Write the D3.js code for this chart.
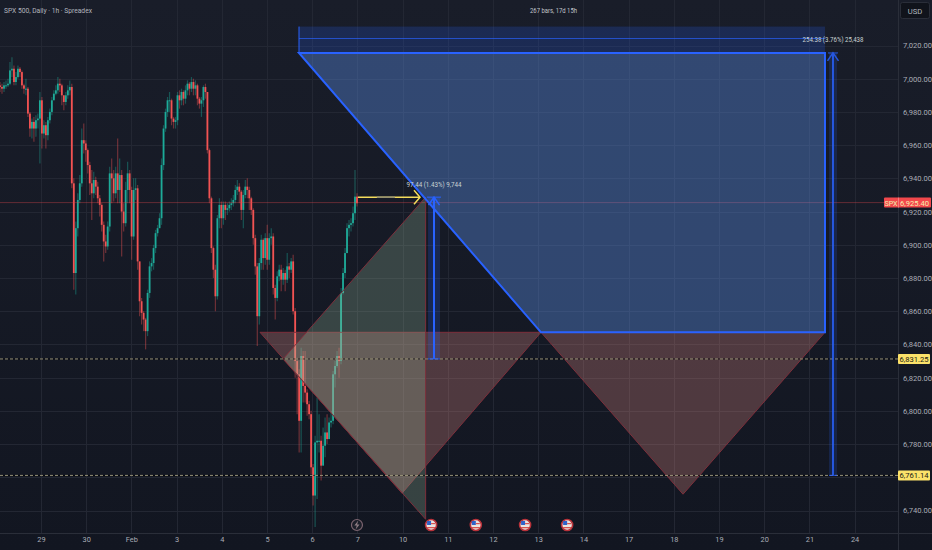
<!DOCTYPE html>
<html><head><meta charset="utf-8">
<script src="https://cdn.jsdelivr.net/npm/d3@7/dist/d3.min.js"></script>
<style>html,body{margin:0;padding:0;background:#131722;overflow:hidden}svg{display:block}text{font-family:Roboto,"Liberation Sans",sans-serif}</style>
</head><body><svg id="c" width="932" height="550"></svg>
<script>
const closes=[6995,6994,6996,6996,6997,7005,7006,6998,7001,7006,
7004,6996,6994,6994,6979,6970,6974,6970,6975,6976,
6987,6967,6972,6966,6975,6980,6987,6991,6993,6997,
6996,6990,6986,6990,6993,6995,6937,6883,6910,6927,
6937,6963,6961,6957,6948,6937,6931,6939,6935,6928,
6924,6912,6902,6899,6911,6943,6940,6931,6943,6933,
6942,6920,6913,6933,6943,6933,6905,6933,6934,6890,
6866,6859,6855,6848,6871,6887,6889,6898,6907,6910,
6916,6948,6970,6980,6987,6987,6976,6974,6975,6990,
6987,6992,6988,6993,6997,6994,6998,6994,6996,6988,
6985,6987,6995,6992,6957,6928,6898,6885,6869,6916,
6924,6916,6924,6921,6922,6924,6925,6927,6933,6935,
6932,6921,6930,6935,6933,6928,6921,6904,6887,6857,
6889,6903,6892,6904,6891,6904,6905,6874,6868,6881,
6885,6879,6883,6879,6887,6885,6890,6860,6830,6822,
6794,6833,6815,6811,6804,6798,6766,6749,6781,6782,
6782,6767,6779,6787,6783,6793,6794,6822,6827,6833,
6830,6871,6883,6895,6910,6912,6913,6919,6929,6925];
const highs=[6998,6997,6998,6999,7000,7010,7013,7008,7004,7008,
7007,7005,6997,7000,6995,6980,6976,6977,6978,6979,
6992,6989,6975,6974,6977,6982,6989,6993,6996,7001,
7000,6997,6990,6992,6996,6999,6997,6940,6914,6931,
6942,6970,6973,6963,6958,6950,6945,6944,6941,6938,
6930,6925,6914,6906,6914,6947,6952,6945,6947,6964,
6952,6945,6925,6938,6950,6945,6935,6940,6940,6936,
6890,6868,6860,6856,6873,6890,6892,6900,6909,6912,
6919,6952,6972,6982,6989,6992,6988,6977,6977,6992,
6993,6994,6993,6996,6999,6998,7001,7000,6999,6997,
6989,6989,6996,6997,6992,6958,6929,6899,6888,6918,
6928,6926,6926,6926,6925,6926,6928,6930,6936,6939,
6937,6933,6933,6939,6940,6935,6929,6922,6906,6889,
6892,6906,6904,6907,6912,6907,6910,6907,6876,6884,
6888,6888,6886,6885,6895,6889,6892,6894,6862,6832,
6825,6838,6836,6836,6813,6806,6800,6768,6785,6808,
6798,6785,6790,6796,6798,6796,6800,6824,6830,6836,
6838,6874,6886,6898,6913,6915,6916,6923,6945,6931];
const lows=[6992,6991,6992,6994,6995,6996,7001,6996,6996,7000,
7001,6994,6991,6990,6977,6965,6964,6962,6965,6970,
6949,6958,6964,6958,6963,6973,6978,6988,6990,6991,
6992,6984,6981,6984,6988,6990,6934,6873,6870,6905,
6925,6935,6955,6950,6943,6930,6915,6928,6930,6925,
6917,6908,6890,6895,6897,6908,6925,6926,6928,6925,
6925,6893,6908,6911,6925,6925,6891,6903,6927,6885,
6857,6852,6848,6837,6845,6868,6884,6885,6895,6905,
6913,6912,6945,6968,6977,6980,6972,6970,6970,6972,
6982,6984,6984,6985,6990,6990,6992,6990,6990,6984,
6982,6977,6983,6988,6955,6925,6895,6880,6860,6867,
6910,6910,6912,6915,6918,6920,6921,6923,6925,6930,
6925,6915,6910,6928,6928,6921,6918,6900,6882,6839,
6852,6885,6885,6888,6885,6888,6900,6870,6855,6866,
6878,6872,6876,6872,6877,6880,6883,6858,6820,6798,
6775,6775,6805,6805,6797,6795,6762,6743,6730,6747,
6775,6758,6768,6772,6780,6785,6790,6792,6814,6826,
6820,6828,6870,6880,6895,6905,6908,6911,6915,6923];
const firstOpen=6996;
const dayLabels=["29","30","Feb","3","4","5","6","7","10","11","12","13","14","17","18","19","20","21","24"];
const priceTicks=[7020,7000,6980,6960,6940,6920,6900,6880,6860,6840,6820,6800,6780,6760,6740];
const hiddenPriceLabels=[6760];
// drawings: [day position, price]
const redTri1=[[4.845,6847.3],[11.062,6847.3],[7.987,6750.4]];
const redTri2=[[11.062,6847.3],[17.345,6847.3],[14.204,6749.8]];
const greenTri=[[5.354,6831.25],[8.51,6928.69],[8.51,6734.7]];
const bluePoly=[[5.708,7015.52],[17.345,7015.52],[17.345,6847.3],[11.062,6847.3]];
const blueBand=[5.708,17.345,7031.4,7015.52];
const blueBandMid=7024.2;
const levels=[6831.25,6761.14];
const lastPrice=6925.4;
const measureBig={day:17.522,from:6761.14,to:7015.52,label:"254.38 (3.76%) 25,438"};
const measureSmall={day:8.695,from:6831.25,to:6928.69,label:"97.44 (1.43%) 9,744"};
const yellowArrow={from:7.013,to:8.385,price:6928.69,greyFrom:7.43,greyTo:7.83};
const eventDays=[6.99,8.63,9.62,10.71,11.64];
const eventKinds=["bolt","flag","flag","flag","flag"];

const W=932,H=550,paneR=898,paneB=533;
const svg=d3.select("#c");
const y=d3.scaleLinear().domain([7020,6740]).range([45.5,510.5]);
const xDay=d3.scaleLinear().domain([0,1]).range([41,86.2]);
const xBar=d3.scaleLinear().domain([0,closes.length-1]).range([0,357]);
const defs=svg.append("defs");
const g0=defs.append("linearGradient").attr("id","bg").attr("x1",0).attr("x2",0).attr("y1",0).attr("y2",1);
g0.append("stop").attr("offset",0).attr("stop-color","#191d29");
g0.append("stop").attr("offset",1).attr("stop-color","#121621");
defs.append("clipPath").attr("id","pane").append("rect").attr("width",paneR).attr("height",paneB);
defs.append("filter").attr("id","soft").attr("x","-2%").attr("y","-2%").attr("width","104%").attr("height","104%")
  .append("feGaussianBlur").attr("stdDeviation",.35);
svg.append("rect").attr("width",W).attr("height",H).attr("fill","url(#bg)");

const yAxis=d3.axisRight(y).tickValues(priceTicks).tickSize(0).tickPadding(5)
  .tickFormat(d=>hiddenPriceLabels.includes(d)?"":d3.format(",.2f")(d));
const xAxis=d3.axisBottom(xDay).tickValues(dayLabels.map((_,i)=>i)).tickSize(0).tickPadding(4)
  .tickFormat(i=>dayLabels[i]);

const pane=svg.append("g").attr("clip-path","url(#pane)");
// grid
pane.append("g").selectAll("line").data(priceTicks).join("line")
 .attr("x1",0).attr("x2",paneR).attr("y1",d=>Math.round(y(d))+.5).attr("y2",d=>Math.round(y(d))+.5).attr("stroke","#232733").attr("stroke-width",1);
pane.append("g").selectAll("line").data(dayLabels).join("line")
 .attr("y1",0).attr("y2",paneB).attr("x1",(_,i)=>Math.round(xDay(i))+.5).attr("x2",(_,i)=>Math.round(xDay(i))+.5).attr("stroke","#232733").attr("stroke-width",1);

// candles
const bars=closes.map((c,i)=>({i,c,o:i?closes[i-1]:firstOpen,h:highs[i],l:lows[i]}));
const up="#1fab99",dn="#f25252";
const col=d=>d.c>=d.o?up:dn;
const cg=pane.append("g").attr("filter","url(#soft)");
cg.selectAll("line").data(bars).join("line")
 .attr("x1",d=>xBar(d.i)).attr("x2",d=>xBar(d.i)).attr("y1",d=>y(d.h)).attr("y2",d=>y(d.l))
 .attr("stroke",col).attr("stroke-opacity",.4).attr("stroke-width",1.2);
cg.selectAll("rect").data(bars).join("rect")
 .attr("x",d=>xBar(d.i)-.9).attr("width",1.8)
 .attr("y",d=>y(Math.max(d.o,d.c))).attr("height",d=>Math.max(1,Math.abs(y(d.o)-y(d.c))))
 .attr("fill",col);

// price line
pane.append("line").attr("x1",0).attr("x2",paneR).attr("y1",y(lastPrice)).attr("y2",y(lastPrice))
 .attr("stroke","#e0474c").attr("stroke-opacity",.38).attr("stroke-width",1);

const poly=d=>d.map(p=>[xDay(p[0]),y(p[1])].join(",")).join(" ");
const redFill="rgba(217,136,130,.3)",redLine="#7d2f3b";
pane.append("polygon").attr("points",poly(redTri1)).attr("fill",redFill).attr("stroke",redLine);
pane.append("polygon").attr("points",poly(redTri2)).attr("fill",redFill).attr("stroke",redLine);
pane.append("polygon").attr("points",poly(greenTri)).attr("fill","rgba(170,210,170,.24)").attr("stroke",redLine);

// blue
const bandFill="rgba(41,98,255,.2)",blue="#2962ff";
pane.append("rect").attr("x",xDay(blueBand[0])).attr("width",xDay(blueBand[1])-xDay(blueBand[0]))
 .attr("y",y(blueBand[2])).attr("height",y(blueBand[3])-y(blueBand[2])).attr("fill",bandFill);
pane.append("line").attr("x1",xDay(blueBand[0])).attr("x2",xDay(blueBand[1])).attr("y1",y(blueBandMid)).attr("y2",y(blueBandMid)).attr("stroke",blue).attr("stroke-opacity",.7);
pane.append("line").attr("x1",xDay(blueBand[0])).attr("x2",xDay(blueBand[0])).attr("y1",y(blueBand[2])).attr("y2",y(blueBand[3])).attr("stroke",blue);
pane.append("polygon").attr("points",poly(bluePoly)).attr("fill","rgba(90,140,225,.4)").attr("stroke",blue).attr("stroke-width",2).attr("stroke-linejoin","miter");

// levels
levels.forEach(v=>{
 pane.append("line").attr("x1",0).attr("x2",paneR).attr("y1",y(v)).attr("y2",y(v))
  .attr("stroke","#000").attr("stroke-opacity",.6);
 pane.append("line").attr("x1",0).attr("x2",paneR).attr("y1",y(v)).attr("y2",y(v))
  .attr("stroke","#cfc8a2").attr("stroke-opacity",.72).attr("stroke-dasharray","3 2");
});

// measures
function measure(m,half,headW,op){
 const cx=xDay(m.day),y0=y(m.from),y1=y(m.to);
 const gm=pane.append("g").attr("opacity",op);
 gm.append("rect").attr("x",cx-half).attr("width",half*2).attr("y",y1).attr("height",y0-y1).attr("fill",bandFill);
 gm.append("line").attr("x1",cx).attr("x2",cx).attr("y1",y0).attr("y2",y1).attr("stroke",blue).attr("stroke-width",2);
 gm.append("line").attr("x1",cx-half).attr("x2",cx+half).attr("y1",y0).attr("y2",y0).attr("stroke",blue);
 gm.append("line").attr("x1",cx-half-1).attr("x2",cx+half+1).attr("y1",y1).attr("y2",y1).attr("stroke",blue);
 gm.append("path").attr("d",`M${cx-headW},${y1+8}L${cx},${y1}L${cx+headW},${y1+8}`).attr("fill","none").attr("stroke",blue).attr("stroke-width",1.5);
}
measure(measureBig,4,5.5,.85);
measure(measureSmall,6,5.5,1);

// yellow arrow
const ya=y(yellowArrow.price);
pane.append("line").attr("x1",xDay(yellowArrow.from)).attr("x2",xDay(yellowArrow.to)).attr("y1",ya).attr("y2",ya).attr("stroke","#f4dc5c").attr("stroke-width",1.5);
pane.append("line").attr("x1",xDay(yellowArrow.greyFrom)).attr("x2",xDay(yellowArrow.greyTo)).attr("y1",ya).attr("y2",ya).attr("stroke","#8d8a72").attr("stroke-width",1.5);
pane.append("path").attr("d",`M${xDay(yellowArrow.to)-6},${ya-7}L${xDay(yellowArrow.to)},${ya}L${xDay(yellowArrow.to)-6},${ya+7}`).attr("fill","none").attr("stroke","#f4dc5c").attr("stroke-width",1.5);

// measure labels
function mLabel(m,lift,len){
 svg.append("text").attr("x",xDay(m.day)).attr("y",y(m.to)-lift).attr("text-anchor","middle").attr("font-size",7.4)
  .attr("textLength",len).attr("lengthAdjust","spacingAndGlyphs")
  .attr("fill","#c9d3d3").text(m.label);
}
mLabel(measureBig,11,61);
mLabel(measureSmall,10,55);

// events
eventKinds.forEach((k,i)=>{
 const g=svg.append("g").attr("transform",`translate(${xDay(eventDays[i])},525)`);
 if(k==="bolt"){
  g.append("circle").attr("r",5.5).attr("fill","#1c1f2a").attr("stroke","#7d6570").attr("stroke-width",1.2);
  g.append("path").attr("d","M1.3,-4.5L-2.6,0.6H-0.2L-1.3,4.5L2.6,-0.6H0.2Z").attr("fill","#8e7c84");
 }else{
  g.append("circle").attr("r",5.5).attr("fill","#e9e4e0").attr("stroke","#b8323a").attr("stroke-width",1.6);
  g.append("rect").attr("x",-4).attr("y",-4).attr("width",4).attr("height",4).attr("fill","#2f63c9");
  g.append("rect").attr("x",-4).attr("y",2).attr("width",8).attr("height",1.3).attr("fill","#d9534f");
  g.append("rect").attr("x",0).attr("y",-2).attr("width",4).attr("height",1.2).attr("fill","#d9534f");
 }
});

// axes
svg.append("line").attr("x1",paneR+.5).attr("x2",paneR+.5).attr("y1",0).attr("y2",H).attr("stroke","#2a2e39");
svg.append("line").attr("x1",0).attr("x2",W).attr("y1",paneB+.5).attr("y2",paneB+.5).attr("stroke","#2a2e39");
const ax=svg.append("g").attr("transform",`translate(${paneR},0)`).call(yAxis);
ax.select(".domain").remove();
ax.selectAll("text").attr("font-size",7.6).attr("fill","#a9acb5");
const bx=svg.append("g").attr("transform",`translate(0,${paneB})`).call(xAxis);
bx.select(".domain").remove();
bx.selectAll("text").attr("font-size",7.4).attr("fill","#a9acb5");

// price labels
levels.forEach(v=>{
 const yy=y(v);
 svg.append("rect").attr("x",paneR).attr("y",yy-5).attr("width",32).attr("height",10).attr("fill","#fbe26a").attr("rx",1);
 svg.append("text").attr("x",paneR+16).attr("y",yy+3).attr("text-anchor","middle").attr("font-size",7.6).attr("fill","#1a1a14").text(d3.format(",.2f")(v));
});
const ly=y(lastPrice);
svg.append("rect").attr("x",884).attr("y",ly-5).attr("width",47).attr("height",10).attr("fill","#f2484c").attr("rx",1);
svg.append("line").attr("x1",paneR+.5).attr("x2",paneR+.5).attr("y1",ly-5).attr("y2",ly+5).attr("stroke","#f9a0a0").attr("stroke-opacity",.6);
svg.append("text").attr("x",891).attr("y",ly+3).attr("text-anchor","middle").attr("font-size",7.2).attr("fill","#f3eeb0").text("SPX");
svg.append("text").attr("x",914.5).attr("y",ly+3).attr("text-anchor","middle").attr("font-size",7.6).attr("fill","#f3eeb0").text(d3.format(",.2f")(lastPrice));

// header
svg.append("text").attr("x",4).attr("y",12.5).attr("font-size",7.6).attr("textLength",88).attr("lengthAdjust","spacingAndGlyphs").attr("fill","#b2b5be").text("SPX 500, Daily · 1h · Spreadex");
svg.append("text").attr("x",553.5).attr("y",12.5).attr("text-anchor","middle").attr("font-size",8).attr("textLength",47).attr("lengthAdjust","spacingAndGlyphs").attr("fill","#c2c5cc").text("267 bars, 17d 15h");
svg.append("rect").attr("x",900.5).attr("y",2.5).attr("width",29).attr("height",16).attr("rx",2).attr("fill","#10131b").attr("stroke","#2a2e39");
svg.append("text").attr("x",915).attr("y",13.5).attr("text-anchor","middle").attr("font-size",7.6).attr("fill","#b2b5be").text("USD");
</script></body></html>
